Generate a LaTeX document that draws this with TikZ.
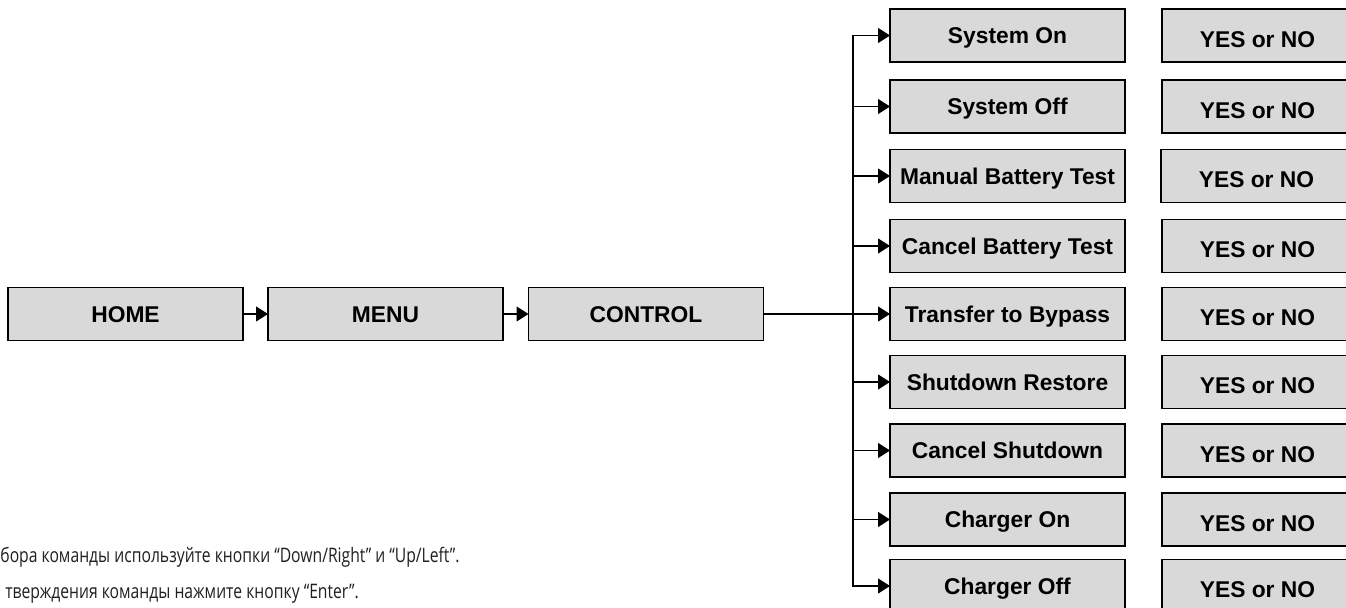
\documentclass[tikz,border=0pt]{standalone}
\usepackage{fontspec}
\setmainfont{Liberation Sans}
\newfontfamily\boxfont{Liberation Sans}
\newfontfamily\notefont[FakeStretch=0.785]{Open Sans}
\usetikzlibrary{arrows.meta}
\definecolor{boxgray}{HTML}{D9D9D9}
\definecolor{notecol}{HTML}{231F20}
\begin{document}
\begin{tikzpicture}[x=0.5pt,y=-0.5pt,
  box/.style={draw=black, line width=0.9pt, fill=boxgray, minimum width=117.5pt,
    minimum height=26.5pt, inner sep=0pt, outer sep=0pt,
    font=\boxfont\bfseries\fontsize{11.4}{13}\selectfont,
    text height=8.16pt, text depth=0pt},
  yesbox/.style={box, minimum width=95.5pt, text height=11.6pt},
  conn/.style={line width=0.6pt, draw=black},
  arr/.style={conn, -{Triangle[length=6pt,width=7.5pt]}},
  note/.style={inner sep=0pt, text=notecol, font=\notefont\fontsize{10}{12}\selectfont}
]
\clip (0,0) rectangle (1346,608);
\fill[white] (0,0) rectangle (1346,608);

% main row
\node[box] (home) at (125.5,314) {HOME};
\node[box] (menu) at (385.5,314) {MENU};
\node[box] (control) at (646,314) {CONTROL};
\coordinate (bus) at (853,314);

% command column
\node[box] (s1) at (1007.5,35.5) {System On};
\node[box] (s2) at (1007.5,106.5) {System Off};
\node[box] (s3) at (1007.5,176) {Manual Battery Test};
\node[box] (s4) at (1007.5,246) {Cancel Battery Test};
\node[box] (s5) at (1007.5,314) {Transfer to Bypass};
\node[box] (s6) at (1007.5,382) {Shutdown Restore};
\node[box] (s7) at (1007.5,450.5) {Cancel Shutdown};
\node[box] (s8) at (1007.5,519.5) {Charger On};
\node[box] (s9) at (1007.5,586) {Charger Off};

% confirmation column
\node[yesbox] (y1) at (1257.5,35.5) {YES or NO};
\node[yesbox] (y2) at (1257.5,106.5) {YES or NO};
\node[yesbox] (y3) at (1256.5,176) {YES or NO};
\node[yesbox] (y4) at (1257.5,246) {YES or NO};
\node[yesbox] (y5) at (1257.5,314) {YES or NO};
\node[yesbox] (y6) at (1257.5,382) {YES or NO};
\node[yesbox] (y7) at (1257.5,450.5) {YES or NO};
\node[yesbox] (y8) at (1257.5,519.5) {YES or NO};
\node[yesbox] (y9) at (1257.5,586) {YES or NO};

% connectors
\draw[arr] (home) -- (menu);
\draw[arr] (menu) -- (control);
\draw[arr] (control) -- (s5);
\draw[arr] (bus) |- (s1.west);
\draw[arr] (bus) |- (s9.west);
\foreach \i in {2,3,4,6,7,8}{
  \draw[arr] (s\i.west -| bus) -- (s\i.west);
}

% notes
\node[note, anchor=base west] (n1) at (0,563) {бора команды используйте кнопки “Down/Right” и “Up/Left”.};
\node[note, anchor=base west] (n2) at (5,599) {тверждения команды нажмите кнопку “Enter”.};
\end{tikzpicture}
\end{document}
